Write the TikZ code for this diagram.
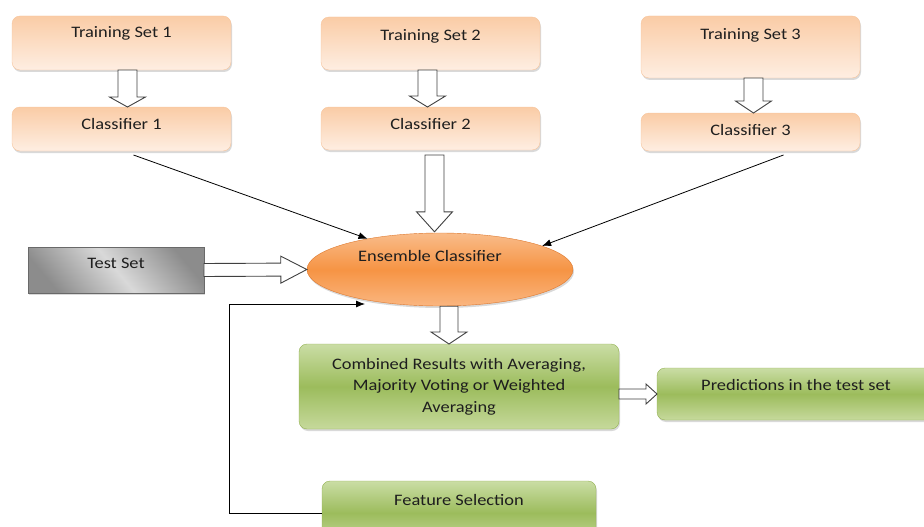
\documentclass[tikz,border=0pt]{standalone}
\usepackage{fontspec}
\setmainfont{Carlito}[FakeStretch=1.15]
\usetikzlibrary{positioning,shapes,shadows,arrows.meta,calc}
\definecolor{peachtop}{RGB}{250,204,166}
\definecolor{peachbot}{RGB}{254,238,226}
\definecolor{peachline}{RGB}{246,196,156}
\definecolor{oltop}{RGB}{202,221,165}
\definecolor{olmid}{RGB}{156,188,92}
\definecolor{olbot}{RGB}{198,217,156}
\definecolor{olline}{RGB}{148,178,84}
\definecolor{enstop}{RGB}{249,188,138}
\definecolor{ensmid}{RGB}{246,148,68}
\definecolor{ensbot}{RGB}{250,182,128}
\definecolor{ensline}{RGB}{222,120,45}
\definecolor{testline}{RGB}{105,105,105}
\definecolor{fatline}{RGB}{64,64,64}
\definecolor{txt}{RGB}{30,30,30}
\newcommand{\fatarrow}[5]{%
  \coordinate (fh) at ($(#5)!#3!(#4)$);
  \draw[fat] ($(#4)!#1!90:(#5)$) -- ($(fh)!#1!-90:(#4)$) -- ($(fh)!#2!-90:(#4)$) -- (#5)
    -- ($(fh)!#2!90:(#4)$) -- ($(fh)!#1!90:(#4)$) -- ($(#4)!#1!-90:(#5)$) -- cycle;}

\begin{document}
\begin{tikzpicture}[x=1pt,y=-1pt,
    font=\fontsize{16}{21.5}\selectfont,
    box/.style={anchor=north west,inner ysep=0pt,outer sep=0pt,text=txt,
      drop shadow={shadow xshift=1pt,shadow yshift=-2pt,opacity=.3}},
    peach/.style={box,rounded corners=8pt,draw=peachline,top color=peachtop,bottom color=peachbot,minimum width=219pt},
    olive/.style={box,rounded corners=8pt,draw=olline,top color=oltop,bottom color=olbot,middle color=olmid},
    fat/.style={draw=fatline,fill=white,line width=0.9pt,line join=miter},
    link/.style={-{Latex[length=9pt,width=7pt]},line width=0.8pt}]
    \useasboundingbox (0,0) rectangle (924,527);

    \node[peach,text height=21.7pt,text depth=32.3pt] (ts1) at (12,16) {Training Set 1};
    \node[peach,text height=22.6pt,text depth=21.4pt] (cl1) at (12,107) {Classifier 1};
    \node[peach,text height=23.5pt,text depth=29.5pt] (ts2) at (321,17) {Training Set 2};
    \node[peach,text height=22.5pt,text depth=20.5pt] (cl2) at (321,107) {Classifier 2};
    \node[peach,text height=24pt,text depth=38pt] (ts3) at (641,16) {Training Set 3};
    \node[peach,text height=22pt,text depth=16pt] (cl3) at (641,113) {Classifier 3};

    \node[box,draw=testline,minimum width=176pt,text height=21pt,text depth=25pt,
      top color=gray!90,bottom color=gray!90,middle color=gray!30,shading angle=-50] (test) at (28,247) {Test Set};

    \node[ellipse,draw=ensline,top color=enstop,bottom color=ensbot,middle color=ensmid,text=txt,
      minimum width=266pt,minimum height=73pt,inner sep=0pt,text height=10pt,text depth=27pt,
      drop shadow={shadow xshift=1pt,shadow yshift=-2pt,opacity=.3}] (ens) at (440,269.5) {Ensemble Classifier\hspace*{20pt}};

    \node[olive,minimum width=320pt,minimum height=85pt,align=center] (comb) at (299,344)
      {Combined Results with Averaging,\\Majority Voting or Weighted\\Averaging};
    \node[olive,minimum width=278pt,text height=22pt,text depth=30pt] (pred) at (657,368) {Predictions in the test set};
    \node[olive,minimum width=274pt,text height=24pt,text depth=40pt] (fsel) at (322,481) {Feature Selection};

    \coordinate (a1) at ([xshift=6pt]ts1.south);
    \coordinate (b1) at ([xshift=6pt]cl1.north);
    \coordinate (a2) at ([xshift=-3pt]ts2.south);
    \coordinate (b2) at ([xshift=-3pt]cl2.north);
    \coordinate (a3) at ([xshift=3pt]ts3.south);
    \coordinate (b3) at ([xshift=3pt]cl3.north);
    \coordinate (c2) at ([xshift=4pt,yshift=-5pt]cl2.south);
    \coordinate (etop) at ([xshift=-5.5pt,yshift=1pt]ens.north);
    \coordinate (ebot) at ([xshift=9pt]ens.south);
    \coordinate (ctop) at ([xshift=-10pt]comb.north);
    \coordinate (cout) at (comb.east |- pred.west);
    \coordinate (fbin) at (365,304);

    \fatarrow{9.5pt}{18pt}{10pt}{a1}{b1}
    \fatarrow{9.5pt}{18pt}{11pt}{a2}{b2}
    \fatarrow{9.5pt}{18pt}{12pt}{a3}{b3}
    \fatarrow{9.5pt}{18pt}{20pt}{c2}{etop}
    \fatarrow{6.5pt}{13.5pt}{26pt}{test.east}{ens.west}
    \fatarrow{9pt}{18pt}{12pt}{ebot}{ctop}
    \fatarrow{5pt}{10pt}{11pt}{cout}{pred.west}

    \draw[link] ([xshift=12pt,yshift=-4pt]cl1.south) -- (ens.157);
    \draw[link] ([xshift=33pt,yshift=-4pt]cl3.south) -- (ens.13);
    \draw[link] (fsel.west) -- ++(-93,0) |- (fbin);
\end{tikzpicture}
\end{document}
